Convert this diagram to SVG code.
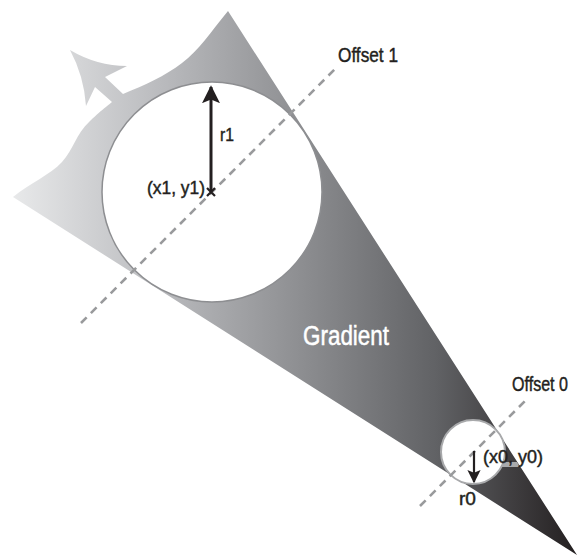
<svg xmlns="http://www.w3.org/2000/svg" width="583" height="557" viewBox="0 0 583 557">
  <style>
    .lbl { font-family: "Liberation Sans Narrow", "Liberation Sans", Arial, sans-serif; fill: #231f20; stroke: #231f20; stroke-width: 0.45; }
    .dash { stroke: #999a9c; stroke-width: 2.6; stroke-dasharray: 8 6; fill: none; }
    .arr { stroke: #231f20; fill: none; }
  </style>
  <defs>
    <linearGradient id="grad" gradientUnits="userSpaceOnUse" x1="13" y1="0" x2="577" y2="0">
      <stop offset="0" stop-color="#e8e9ea"/>
      <stop offset="0.25" stop-color="#bcbdc0"/>
      <stop offset="0.5" stop-color="#8f9093"/>
      <stop offset="0.75" stop-color="#616265"/>
      <stop offset="1" stop-color="#231f20"/>
    </linearGradient>
    <marker id="head" viewBox="0 0 10 10" refX="9" refY="5" markerWidth="6" markerHeight="6" markerUnits="strokeWidth" orient="auto">
      <path d="M0,0 L10,5 L0,10 L2,5 Z" fill="#231f20"/>
    </marker>
  </defs>

  <g id="gradient-shape">
    <path d="M13,197 C30,183 50,175 62,162 S75,135 90,121 S105,108 112,102 L95,87 L86,106 Q84,76 70,50 Q97,66 127,66 L105,77 L123,94 C145,85 165,76 182,63 S210,33 228,11 L577,555 Z" fill="url(#grad)"/>
    <polygon points="503,462 517,462 520,467 499,467" fill="#a9aaac"/>
  </g>

  <g id="circle1">
    <circle cx="212" cy="192" r="110" fill="#ffffff" stroke="#8d8e91" stroke-width="1.5"/>
  </g>
  <g id="circle0">
    <circle cx="473" cy="452" r="32" fill="#ffffff" stroke="#a8a9ab" stroke-width="2"/>
  </g>

  <g id="connectors">
    <line class="dash" x1="81" y1="323" x2="336" y2="68"/>
    <line class="dash" x1="420" y1="506" x2="526" y2="400"/>
    <line class="arr" x1="211" y1="192" x2="211" y2="87" stroke-width="3" marker-end="url(#head)"/>
    <line class="arr" x1="474" y1="451" x2="474" y2="482" stroke-width="2.2" marker-end="url(#head)"/>
    <path d="M207,188 L215,196 M215,188 L207,196" stroke="#231f20" stroke-width="2.2"/>
  </g>

  <g id="labels">
    <text class="lbl" x="338" y="62" font-size="21" textLength="60" lengthAdjust="spacingAndGlyphs">Offset 1</text>
    <text class="lbl" x="512" y="391" font-size="20" textLength="56" lengthAdjust="spacingAndGlyphs">Offset 0</text>
    <text class="lbl" x="220" y="141" font-size="19" textLength="14" lengthAdjust="spacingAndGlyphs">r1</text>
    <text class="lbl" x="147" y="194" font-size="19" textLength="58" lengthAdjust="spacingAndGlyphs">(x1, y1)</text>
    <text class="lbl" x="483" y="463" font-size="19" textLength="60" lengthAdjust="spacingAndGlyphs">(x0, y0)</text>
    <text class="lbl" x="459" y="505" font-size="19" textLength="17" lengthAdjust="spacingAndGlyphs">r0</text>
    <text x="303" y="345" font-size="27" fill="#ffffff" stroke="#ffffff" stroke-width="0.5" font-family="Liberation Sans Narrow, Liberation Sans, Arial, sans-serif" textLength="86" lengthAdjust="spacingAndGlyphs">Gradient</text>
  </g>
</svg>
